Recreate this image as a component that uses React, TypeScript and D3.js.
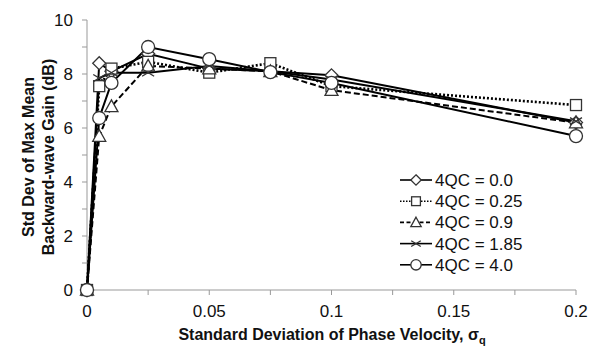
import React from "react";
import * as d3 from "d3";

const xValues = [0, 0.005, 0.01, 0.025, 0.05, 0.075, 0.1, 0.2];
const seriesNames = ["4QC = 0.0", "4QC = 0.25", "4QC = 0.9", "4QC = 1.85", "4QC = 4.0"];
const s00 = [0, 8.4, 8.1, 8.75, 8.2, 8.1, 7.95, 6.2];
const s025 = [0, 7.55, 8.2, 8.45, 8.05, 8.4, 7.55, 6.85];
const s09 = [0, 5.7, 6.8, 8.3, 8.2, 8.1, 7.4, 6.2];
const s185 = [0, 7.85, 8.05, 8.05, 8.3, 8.1, 7.8, 6.25];
const s40 = [0, 6.37, 7.67, 9.0, 8.55, 8.07, 7.67, 5.7];
const xTickLabels = ["0", "0.05", "0.1", "0.15", "0.2"];
const yTickLabels = ["0", "2", "4", "6", "8", "10"];

const allSeries = [s00, s025, s09, s185, s40];
const dashes = [null, "2,2", "6,3", null, null];
const markers = ["diamond", "square", "triangle", "x", "circle"];

const W = 589, H = 351;
const L = 87, R = 576, T = 20, B = 290;

function Marker({ type, cx, cy, s = 1 }: { type: string; cx: number; cy: number; s?: number }) {
  const st = { fill: "#fff", stroke: "#333", strokeWidth: 1.3 };
  if (type === "diamond") {
    const r = 6.5 * s;
    return <polygon points={`${cx},${cy - r} ${cx + r},${cy} ${cx},${cy + r} ${cx - r},${cy}`} {...st} />;
  }
  if (type === "square") {
    const r = 5.5 * s;
    return <rect x={cx - r} y={cy - r} width={2 * r} height={2 * r} {...st} />;
  }
  if (type === "triangle") {
    const r = 6.5 * s;
    return <polygon points={`${cx},${cy - r} ${cx + r},${cy + r * 0.8} ${cx - r},${cy + r * 0.8}`} {...st} />;
  }
  if (type === "x") {
    const r = 6 * s;
    return (
      <g stroke="#333" strokeWidth={1.3}>
        <line x1={cx - r} y1={cy - r * 0.6} x2={cx + r} y2={cy + r * 0.6} />
        <line x1={cx - r} y1={cy + r * 0.6} x2={cx + r} y2={cy - r * 0.6} />
      </g>
    );
  }
  const r = 6.5 * s;
  return <circle cx={cx} cy={cy} r={r} {...st} />;
}

export default function App() {
  const x = d3.scaleLinear().domain([0, 0.2]).range([L, R]);
  const y = d3.scaleLinear().domain([0, 10]).range([B, T]);
  const line = d3.line<number>().x((_, i) => x(xValues[i])).y((d) => y(d));
  const xTicks = d3.range(0, 9).map((i) => i * 0.025);
  const yTicks = d3.range(0, 11);
  const font = "'Liberation Sans', Arial, sans-serif";
  const axisColor = "#999";
  return (
    <svg width={W} height={H} style={{ position: "absolute", left: 0, top: 0, background: "#fff" }} fontFamily={font}>
      <line x1={L} y1={T} x2={L} y2={B} stroke={axisColor} strokeWidth={1} />
      <line x1={L} y1={B} x2={R} y2={B} stroke={axisColor} strokeWidth={1} />
      {yTicks.map((t) => (
        <line key={"yt" + t} x1={L - 5} x2={L} y1={y(t)} y2={y(t)} stroke={axisColor} />
      ))}
      {xTicks.map((t, i) => (
        <line key={"xt" + i} x1={x(t)} x2={x(t)} y1={B} y2={B + 5} stroke={axisColor} />
      ))}
      {yTickLabels.map((lab) => (
        <text key={"yl" + lab} x={L - 14} y={y(+lab) + 6} textAnchor="end" fontSize={17} fill="#111">
          {lab}
        </text>
      ))}
      {xTickLabels.map((lab) => (
        <text key={"xl" + lab} x={x(+lab)} y={B + 27} textAnchor="middle" fontSize={17} fill="#111">
          {lab}
        </text>
      ))}
      <text x={332} y={340} textAnchor="middle" fontSize={16} fontWeight="bold" fill="#111">
        Standard Deviation of Phase Velocity, σ<tspan fontSize={11} dy={4}>q</tspan>
      </text>
      <g transform="translate(34,157) rotate(-90)">
        <text x={0} y={0} textAnchor="middle" fontSize={16} fontWeight="bold" fill="#111">
          Std Dev of Max Mean
        </text>
        <text x={0} y={20} textAnchor="middle" fontSize={16} fontWeight="bold" fill="#111">
          Backward-wave Gain (dB)
        </text>
      </g>
      {allSeries.map((s, k) => (
        <path
          key={"l" + k}
          d={line(s) || ""}
          fill="none"
          stroke="#000"
          strokeWidth={k === 1 ? 2.6 : 2}
          strokeDasharray={dashes[k] || undefined}
        />
      ))}
      {allSeries.map((s, k) =>
        s.map((v, i) => <Marker key={`m${k}-${i}`} type={markers[k]} cx={x(xValues[i])} cy={y(v)} />)
      )}
      {seriesNames.map((name, k) => {
        const ly = 180 + k * 21.2;
        return (
          <g key={"lg" + k}>
            <line x1={400} x2={432} y1={ly} y2={ly} stroke="#000" strokeWidth={1.6} strokeDasharray={k === 1 ? "1.5,1.5" : k === 2 ? "4,2.5" : undefined} />
            <Marker type={markers[k]} cx={416} cy={ly} s={0.8} />
            <text x={435} y={ly + 6} fontSize={17} fill="#111">
              {name}
            </text>
          </g>
        );
      })}
    </svg>
  );
}
